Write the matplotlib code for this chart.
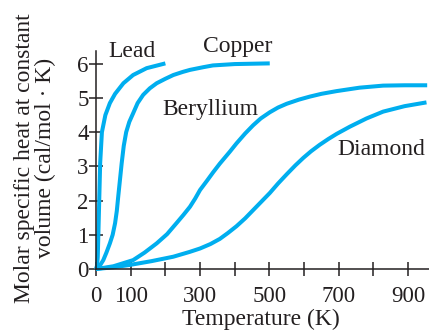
import matplotlib
matplotlib.use('Agg')
import matplotlib.pyplot as plt

plt.rcParams['font.family'] = ['Liberation Serif', 'DejaVu Serif']

# values (temperature K, cal/mol.K)
lead_t = [0, 3, 5, 7, 9.5, 12, 17, 27, 40, 55, 79, 107, 146, 200]
lead_c = [0, 0.1, 0.35, 1.1, 2.1, 3.1, 4.0, 4.5, 4.85, 5.12, 5.43, 5.67, 5.87, 6.01]

copper_t = [0, 10, 21, 30, 40, 48, 55, 60, 64, 69, 74, 80, 87, 96, 107, 120, 136, 155, 175,
            200, 223, 250, 271, 310, 337, 400, 450, 501]
copper_c = [0, 0.08, 0.26, 0.48, 0.75, 1.0, 1.34, 1.7, 2.11, 2.6, 3.09, 3.6, 4.0, 4.3, 4.55,
            4.85, 5.09, 5.28, 5.43, 5.56, 5.67, 5.76, 5.82, 5.9, 5.95, 5.99, 6.0, 6.01]

beryl_t = [0, 50, 107, 140, 175, 205, 232, 252, 271, 286, 300, 320, 338, 357, 386, 405, 430,
           453, 475, 501, 525, 550, 585, 617, 650, 694, 760, 828, 890, 955]
beryl_c = [0, 0.08, 0.26, 0.48, 0.75, 1.02, 1.34, 1.58, 1.82, 2.06, 2.31, 2.58, 2.83, 3.08, 3.43,
           3.67, 3.96, 4.2, 4.4, 4.58, 4.72, 4.83, 4.95, 5.04, 5.12, 5.2, 5.3, 5.36, 5.37, 5.37]

diam_t = [0, 50, 98, 160, 223, 270, 300, 330, 357, 380, 405, 430, 453, 477, 501, 525, 550, 575,
          598, 620, 645, 670, 694, 732, 780, 828, 890, 953]
diam_c = [0, 0.05, 0.12, 0.23, 0.36, 0.5, 0.6, 0.73, 0.88, 1.05, 1.25, 1.48, 1.72, 1.97, 2.22,
          2.5, 2.77, 3.03, 3.25, 3.44, 3.63, 3.8, 3.95, 4.16, 4.4, 4.6, 4.76, 4.87]

labels = ['Lead', 'Copper', 'Beryllium', 'Diamond']
label_pos = [(37, 6.35), (308, 6.49), (190, 4.65), (697, 3.48)]

xticks = list(range(0, 1000, 100))
xticklabels = ['0', '100', '', '300', '', '500', '', '700', '', '900']
yticks = [0, 1, 2, 3, 4, 5, 6]

blue = '#00aeef'
ink = '#231f20'

fig = plt.figure(figsize=(4.29, 3.30), dpi=100)
ax = fig.add_axes([0.2238, 0.1848, 0.776, 0.6615])

for t, c in [(lead_t, lead_c), (copper_t, copper_c), (beryl_t, beryl_c), (diam_t, diam_c)]:
    ax.plot(t, c, color=blue, lw=2.9, solid_capstyle='butt', solid_joinstyle='round', clip_on=False)

for lab, (x, y) in zip(labels, label_pos):
    ax.text(x, y, lab, ha='left', va='center', fontsize=17, color=ink, clip_on=False)

ax.set_xlim(0, 960)
ax.set_ylim(0, 6.38)
ax.set_xticks(xticks)
ax.set_xticklabels(xticklabels)
ax.set_yticks(yticks)

for s in ['top', 'right']:
    ax.spines[s].set_visible(False)
for s in ['left', 'bottom']:
    ax.spines[s].set_color(ink)
    ax.spines[s].set_linewidth(1.1)

ax.tick_params(direction='inout', length=10.5, width=1.1, color=ink, labelsize=16.5,
               labelcolor=ink)
ax.tick_params(axis='x', pad=7)
ax.tick_params(axis='y', pad=0)

# axis titles placed in figure coordinates
fig.text(261 / 429, 1 - 319 / 330, 'Temperature (K)', fontsize=17, color=ink,
         ha='center', va='center')
fig.text(35 / 429, 1 - 158 / 330, 'Molar specific heat at constant\nvolume (cal/mol · K)',
         fontsize=17, color=ink, ha='center', va='center', rotation=90, linespacing=0.95)

fig.savefig('out.png', dpi=100)
